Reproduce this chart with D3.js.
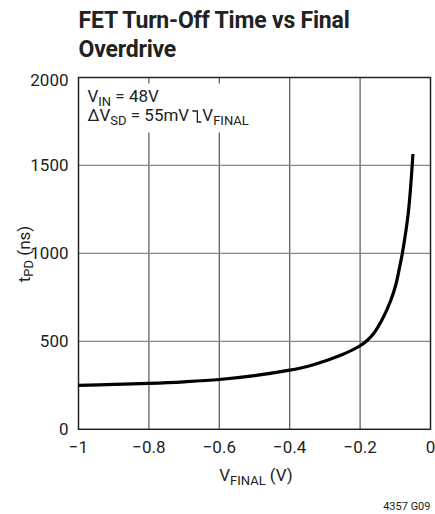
<!DOCTYPE html>
<html>
<head>
<meta charset="utf-8">
<script src="https://cdn.jsdelivr.net/npm/d3@7"></script>
<style>
  body { margin: 0; background: #fff; }
  svg text { font-family: "Roboto", "Liberation Sans", sans-serif; fill: #222; }
</style>
</head>
<body>
<div id="chart"></div>
<script>
// data
var vFinal = [-1, -0.9, -0.8, -0.7, -0.6, -0.5, -0.4, -0.35, -0.3, -0.25, -0.2, -0.18, -0.162,
              -0.134, -0.113, -0.098, -0.086, -0.08, -0.063, -0.052, -0.05];
var tPD    = [250, 255, 261, 270, 283, 305, 336, 357, 388, 425, 475, 505, 543,
              637, 732, 826, 940, 1000, 1232, 1500, 1565];
var xTicks = [-1, -0.8, -0.6, -0.4, -0.2, 0];
var yTicks = [0, 500, 1000, 1500, 2000];

var width = 435, height = 514;
var padL = 78.5, padR = 430.5, padT = 77.5, padB = 429.3;

var svg = d3.select('#chart')
  .append('svg')
    .attr('width', width)
    .attr('height', height);

var x = d3.scaleLinear().domain([-1, 0]).range([padL, padR]);
var y = d3.scaleLinear().domain([0, 2000]).range([padB, padT]);

function fmt(d) {
  return d === 0 ? '0' : String(d).replace('-', '\u2212');
}

// grid
svg.append('g')
  .selectAll('line')
  .data(xTicks.slice(1, -1))
  .join('line')
    .attr('x1', x).attr('x2', x)
    .attr('y1', padT).attr('y2', padB)
    .attr('stroke', '#555').attr('stroke-width', 1.2);

svg.append('g')
  .selectAll('line')
  .data(yTicks.slice(1, -1))
  .join('line')
    .attr('x1', padL).attr('x2', padR)
    .attr('y1', y).attr('y2', y)
    .attr('stroke', '#888').attr('stroke-width', 1.2);

// white box behind the note so grid doesn't run through it
svg.append('rect')
  .attr('x', padL + 4).attr('y', padT + 6)
  .attr('width', 180).attr('height', 49)
  .attr('fill', '#fff');

// frame
svg.append('rect')
  .attr('x', padL).attr('y', padT)
  .attr('width', padR - padL).attr('height', padB - padT)
  .attr('fill', 'none')
  .attr('stroke', '#222').attr('stroke-width', 1.5);

// tick labels
svg.append('g')
  .selectAll('text')
  .data(yTicks)
  .join('text')
    .attr('x', padL - 10)
    .attr('y', function(d) { return y(d) + (d === 2000 ? 8 : 6); })
    .attr('text-anchor', 'end')
    .attr('font-size', 17)
    .text(String);

svg.append('g')
  .selectAll('text')
  .data(xTicks)
  .join('text')
    .attr('x', x)
    .attr('y', padB + 24)
    .attr('text-anchor', 'middle')
    .attr('font-size', 17)
    .text(fmt);

// curve
var line = d3.line()
  .x(function(d, i) { return x(vFinal[i]); })
  .y(function(d) { return y(d); })
  .curve(d3.curveCatmullRom.alpha(0.5));

svg.append('path')
  .datum(tPD)
  .attr('d', line)
  .attr('fill', 'none')
  .attr('stroke', '#000')
  .attr('stroke-width', 3.2);

// title
var title = svg.append('text')
  .attr('x', padL)
  .attr('font-size', 23)
  .attr('letter-spacing', -0.2)
  .attr('font-weight', 'bold');
title.append('tspan').attr('x', padL).attr('y', 28).text('FET Turn-Off Time vs Final');
title.append('tspan').attr('x', padL).attr('y', 57).text('Overdrive');

// axis labels
var xl = svg.append('text')
  .attr('x', 256)
  .attr('y', 481)
  .attr('text-anchor', 'middle')
  .attr('font-size', 17);
xl.append('tspan').text('V');
xl.append('tspan').attr('font-size', 13).attr('dy', 4).text('FINAL');
xl.append('tspan').attr('dy', -4).text(' (V)');

var yl = svg.append('text')
  .attr('transform', 'translate(30,254) rotate(-90)')
  .attr('text-anchor', 'middle')
  .attr('font-size', 17);
yl.append('tspan').text('t');
yl.append('tspan').attr('font-size', 13).attr('dy', 3).text('PD');
yl.append('tspan').attr('dy', -3).text(' (ns)');

// note
var n1 = svg.append('text')
  .attr('x', padL + 9).attr('y', 102)
  .attr('font-size', 17);
n1.append('tspan').text('V');
n1.append('tspan').attr('font-size', 13).attr('dy', 4).text('IN');
n1.append('tspan').attr('dy', -4).text(' = 48V');

var n2 = svg.append('text')
  .attr('x', padL + 9).attr('y', 121)
  .attr('font-size', 17);
n2.append('tspan').text('\u0394V');
n2.append('tspan').attr('font-size', 13).attr('dy', 4).text('SD');
n2.append('tspan').attr('dy', -4).text(' = 55mV');

var bb = n2.node().getBBox();
var ex = bb.x + bb.width;
svg.append('path')
  .attr('d', 'M' + (ex + 3) + ',111H' + (ex + 8) + 'V122H' + (ex + 12))
  .attr('fill', 'none')
  .attr('stroke', '#222')
  .attr('stroke-width', 1.3);

var n3 = svg.append('text')
  .attr('x', ex + 13).attr('y', 121)
  .attr('font-size', 17);
n3.append('tspan').text('V');
n3.append('tspan').attr('font-size', 13).attr('dy', 4).text('FINAL');

// figure code
svg.append('text')
  .attr('x', padR)
  .attr('y', 510)
  .attr('text-anchor', 'end')
  .attr('font-size', 11)
  .text('4357 G09');
</script>
</body>
</html>
